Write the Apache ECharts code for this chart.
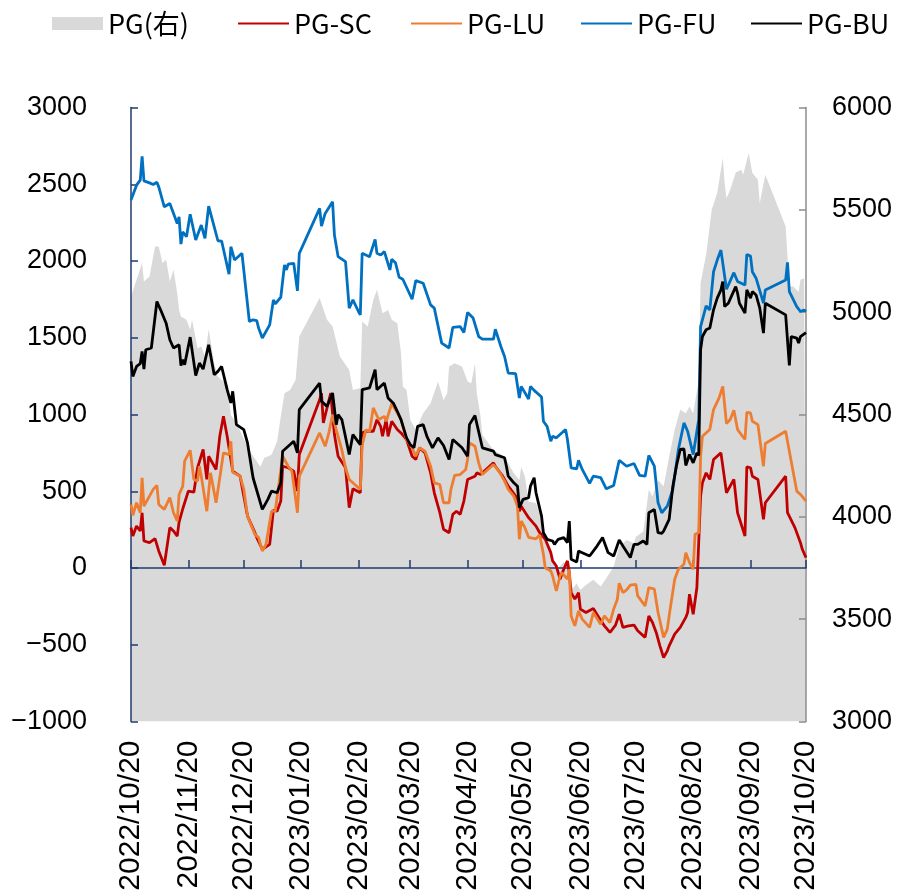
<!DOCTYPE html>
<html><head><meta charset="utf-8">
<script src="https://cdn.jsdelivr.net/npm/echarts@6/dist/echarts.min.js"></script>
<style>html,body{margin:0;padding:0;background:#fff}#c{width:897px;height:892px}</style>
</head><body><div id="c"></div>
<script>
const tickDates = ['2022-10-20','2022-11-20','2022-12-20','2023-01-20','2023-02-20','2023-03-20','2023-04-20','2023-05-20','2023-06-20','2023-07-20','2023-08-20','2023-09-20','2023-10-20'];
const legendNames = ['PG(右)','PG-SC','PG-LU','PG-FU','PG-BU'];

const PG = [['2022-10-20',5076],['2022-10-23',5158],['2022-10-26',5240],['2022-10-27',5150],['2022-10-30',5174],['2022-11-02',5321],['2022-11-04',5321],['2022-11-06',5240],['2022-11-08',5256],['2022-11-10',5150],['2022-11-12',5207],['2022-11-14',5093],['2022-11-15',5011],['2022-11-16',4979],['2022-11-19',4963],['2022-11-21',4914],['2022-11-22',4963],['2022-11-25',4824],['2022-11-27',4832],['2022-11-29',4783],['2022-12-01',4917],['2022-12-04',4751],['2022-12-06',4685],['2022-12-09',4661],['2022-12-11',4653],['2022-12-13',4498],['2022-12-16',4458],['2022-12-22',4343],['2022-12-24',4311],['2022-12-29',4245],['2022-12-31',4287],['2023-01-04',4303],['2023-01-07',4368],['2023-01-09',4490],['2023-01-11',4604],['2023-01-14',4620],['2023-01-17',4669],['2023-01-19',4881],['2023-01-30',5069],['2023-02-03',4963],['2023-02-06',4930],['2023-02-10',4783],['2023-02-15',4718],['2023-02-17',4620],['2023-02-21',4629],['2023-02-22',4954],['2023-02-25',4930],['2023-02-28',5060],['2023-03-02',5109],['2023-03-05',4995],['2023-03-08',5011],['2023-03-10',4963],['2023-03-13',4946],['2023-03-15',4800],['2023-03-16',4637],['2023-03-18',4620],['2023-03-20',4474],['2023-03-23',4425],['2023-03-27',4506],['2023-03-31',4555],['2023-04-04',4661],['2023-04-07',4571],['2023-04-09',4604],['2023-04-10',4734],['2023-04-13',4751],['2023-04-17',4734],['2023-04-20',4661],['2023-04-22',4653],['2023-04-24',4751],['2023-04-25',4604],['2023-04-27',4490],['2023-04-28',4400],['2023-05-04',4327],['2023-05-07',4311],['2023-05-10',4294],['2023-05-12',4262],['2023-05-15',4213],['2023-05-18',4180],['2023-05-19',4245],['2023-05-21',4197],['2023-05-23',4074],['2023-05-27',4067],['2023-05-30',3985],['2023-05-31',3920],['2023-06-02',3887],['2023-06-05',3773],['2023-06-08',3749],['2023-06-11',3781],['2023-06-13',3757],['2023-06-14',3692],['2023-06-16',3651],['2023-06-18',3676],['2023-06-20',3643],['2023-06-23',3667],['2023-06-27',3692],['2023-07-01',3659],['2023-07-04',3700],['2023-07-08',3757],['2023-07-11',3854],['2023-07-15',3887],['2023-07-19',3871],['2023-07-20',3903],['2023-07-24',3928],['2023-07-27',4132],['2023-07-29',4099],['2023-08-01',4180],['2023-08-04',4148],['2023-08-07',4294],['2023-08-10',4425],['2023-08-13',4523],['2023-08-16',4506],['2023-08-18',4539],['2023-08-20',4506],['2023-08-23',4669],['2023-08-24',5142],['2023-08-27',5280],['2023-08-30',5500],['2023-09-02',5582],['2023-09-05',5753],['2023-09-06',5631],['2023-09-07',5557],['2023-09-09',5598],['2023-09-12',5683],['2023-09-15',5696],['2023-09-16',5671],['2023-09-19',5777],['2023-09-21',5680],['2023-09-24',5647],['2023-09-25',5533],['2023-09-28',5671],['2023-10-09',5419],['2023-10-10',5272],['2023-10-11',5125],['2023-10-13',5125],['2023-10-16',5100],['2023-10-17',5158],['2023-10-19',5166],['2023-10-20',5166]];

const PG_SC = [['2022-10-20',263],['2022-10-21',208],['2022-10-23',273],['2022-10-25',241],['2022-10-26',360],['2022-10-27',176],['2022-10-30',165],['2022-11-02',191],['2022-11-04',111],['2022-11-07',18],['2022-11-10',263],['2022-11-12',241],['2022-11-14',208],['2022-11-15',299],['2022-11-17',386],['2022-11-20',501],['2022-11-23',494],['2022-11-25',653],['2022-11-28',772],['2022-11-30',577],['2022-12-01',728],['2022-12-05',642],['2022-12-07',858],['2022-12-09',988],['2022-12-11',858],['2022-12-14',631],['2022-12-18',598],['2022-12-22',338],['2022-12-26',230],['2022-12-27',198],['2022-12-30',122],['2023-01-03',154],['2023-01-05',377],['2023-01-07',370],['2023-01-09',436],['2023-01-10',663],['2023-01-13',653],['2023-01-16',631],['2023-01-18',501],['2023-01-19',739],['2023-01-30',1096],['2023-01-31',1140],['2023-02-01',945],['2023-02-05',1140],['2023-02-07',869],['2023-02-09',728],['2023-02-13',653],['2023-02-15',393],['2023-02-17',516],['2023-02-21',490],['2023-02-22',880],['2023-02-24',891],['2023-02-28',891],['2023-03-02',967],['2023-03-04',923],['2023-03-05',858],['2023-03-07',967],['2023-03-08',858],['2023-03-10',956],['2023-03-13',902],['2023-03-15',880],['2023-03-18',837],['2023-03-21',728],['2023-03-23',707],['2023-03-25',783],['2023-03-28',750],['2023-03-31',620],['2023-04-02',490],['2023-04-05',360],['2023-04-07',252],['2023-04-10',230],['2023-04-12',349],['2023-04-14',370],['2023-04-16',349],['2023-04-18',436],['2023-04-20',577],['2023-04-24',598],['2023-04-25',620],['2023-04-27',609],['2023-04-28',615],['2023-05-04',685],['2023-05-05',663],['2023-05-09',598],['2023-05-12',533],['2023-05-16',468],['2023-05-18',370],['2023-05-19',403],['2023-05-23',328],['2023-05-27',273],['2023-05-29',230],['2023-06-01',187],['2023-06-04',100],['2023-06-05',46],['2023-06-07',13],['2023-06-09',-73],['2023-06-11',-8],['2023-06-13',46],['2023-06-14',-30],['2023-06-15',-160],['2023-06-17',-203],['2023-06-19',-160],['2023-06-20',-268],['2023-06-23',-290],['2023-06-27',-264],['2023-06-30',-322],['2023-07-03',-377],['2023-07-06',-420],['2023-07-09',-372],['2023-07-11',-301],['2023-07-13',-387],['2023-07-16',-377],['2023-07-19',-372],['2023-07-21',-409],['2023-07-25',-452],['2023-07-27',-312],['2023-07-29',-355],['2023-07-31',-420],['2023-08-02',-507],['2023-08-04',-583],['2023-08-06',-540],['2023-08-07',-507],['2023-08-10',-431],['2023-08-13',-387],['2023-08-16',-322],['2023-08-17',-290],['2023-08-18',-171],['2023-08-20',-301],['2023-08-22',-127],['2023-08-23',-117],['2023-08-24',468],['2023-08-25',555],['2023-08-27',620],['2023-08-29',577],['2023-08-31',707],['2023-09-04',750],['2023-09-07',490],['2023-09-11',577],['2023-09-13',360],['2023-09-17',208],['2023-09-18',659],['2023-09-20',653],['2023-09-21',598],['2023-09-24',577],['2023-09-27',317],['2023-09-28',425],['2023-10-09',598],['2023-10-10',360],['2023-10-14',263],['2023-10-17',165],['2023-10-18',122],['2023-10-19',133],['2023-10-20',68]];

const PG_LU = [['2022-10-20',414],['2022-10-21',343],['2022-10-23',425],['2022-10-25',360],['2022-10-26',588],['2022-10-27',403],['2022-10-30',468],['2022-11-01',512],['2022-11-03',538],['2022-11-04',414],['2022-11-07',382],['2022-11-10',458],['2022-11-12',360],['2022-11-14',306],['2022-11-15',479],['2022-11-17',533],['2022-11-18',696],['2022-11-21',767],['2022-11-23',577],['2022-11-25',566],['2022-11-26',663],['2022-11-27',598],['2022-11-30',370],['2022-12-02',620],['2022-12-05',425],['2022-12-09',750],['2022-12-12',739],['2022-12-13',826],['2022-12-14',624],['2022-12-18',598],['2022-12-20',512],['2022-12-22',338],['2022-12-26',219],['2022-12-28',198],['2022-12-30',111],['2023-01-01',154],['2023-01-04',370],['2023-01-06',370],['2023-01-10',728],['2023-01-13',663],['2023-01-15',631],['2023-01-18',360],['2023-01-19',598],['2023-01-30',880],['2023-02-02',793],['2023-02-04',880],['2023-02-06',1000],['2023-02-08',900],['2023-02-11',770],['2023-02-13',653],['2023-02-15',577],['2023-02-18',544],['2023-02-21',512],['2023-02-22',800],['2023-02-24',900],['2023-02-26',888],['2023-02-28',1043],['2023-03-03',967],['2023-03-06',988],['2023-03-07',956],['2023-03-10',1071],['2023-03-13',1010],['2023-03-15',967],['2023-03-18',837],['2023-03-21',783],['2023-03-23',728],['2023-03-25',783],['2023-03-28',761],['2023-03-31',663],['2023-04-02',555],['2023-04-05',544],['2023-04-07',425],['2023-04-10',425],['2023-04-11',512],['2023-04-13',603],['2023-04-16',609],['2023-04-19',642],['2023-04-20',707],['2023-04-21',815],['2023-04-24',793],['2023-04-26',685],['2023-04-28',609],['2023-05-04',674],['2023-05-07',631],['2023-05-10',566],['2023-05-12',512],['2023-05-15',468],['2023-05-17',403],['2023-05-18',187],['2023-05-19',306],['2023-05-21',263],['2023-05-23',200],['2023-05-27',190],['2023-05-29',215],['2023-05-31',89],['2023-06-01',2],['2023-06-04',-20],['2023-06-05',-52],['2023-06-07',-150],['2023-06-09',-52],['2023-06-10',-30],['2023-06-13',-73],['2023-06-14',-8],['2023-06-15',-312],['2023-06-17',-377],['2023-06-19',-279],['2023-06-21',-333],['2023-06-25',-387],['2023-06-27',-290],['2023-07-01',-366],['2023-07-03',-312],['2023-07-06',-355],['2023-07-08',-268],['2023-07-10',-203],['2023-07-11',-99],['2023-07-13',-160],['2023-07-15',-143],['2023-07-17',-112],['2023-07-20',-106],['2023-07-21',-182],['2023-07-25',-247],['2023-07-27',-127],['2023-07-30',-138],['2023-08-01',-290],['2023-08-04',-452],['2023-08-06',-398],['2023-08-07',-312],['2023-08-10',-73],['2023-08-12',-8],['2023-08-15',24],['2023-08-16',100],['2023-08-18',35],['2023-08-20',-8],['2023-08-21',219],['2023-08-23',230],['2023-08-24',728],['2023-08-25',858],['2023-08-29',902],['2023-08-31',1032],['2023-09-03',1108],['2023-09-05',1183],['2023-09-07',941],['2023-09-09',967],['2023-09-11',1027],['2023-09-13',902],['2023-09-17',837],['2023-09-18',1014],['2023-09-20',1010],['2023-09-21',956],['2023-09-24',934],['2023-09-27',663],['2023-09-28',811],['2023-10-09',891],['2023-10-11',761],['2023-10-13',631],['2023-10-15',501],['2023-10-17',479],['2023-10-18',468],['2023-10-20',436]];

const PG_FU = [['2022-10-20',2397],['2022-10-23',2494],['2022-10-25',2527],['2022-10-26',2682],['2022-10-27',2522],['2022-10-30',2509],['2022-11-01',2498],['2022-11-03',2513],['2022-11-04',2483],['2022-11-07',2353],['2022-11-10',2375],['2022-11-14',2245],['2022-11-15',2288],['2022-11-16',2110],['2022-11-17',2190],['2022-11-19',2158],['2022-11-21',2305],['2022-11-24',2137],['2022-11-27',2234],['2022-11-29',2148],['2022-12-01',2358],['2022-12-04',2223],['2022-12-06',2132],['2022-12-08',2130],['2022-12-12',1914],['2022-12-13',2093],['2022-12-15',2007],['2022-12-19',2050],['2022-12-23',1606],['2022-12-25',1617],['2022-12-27',1612],['2022-12-28',1563],['2022-12-30',1498],['2023-01-03',1584],['2023-01-05',1747],['2023-01-06',1721],['2023-01-09',1764],['2023-01-11',1974],['2023-01-12',1942],['2023-01-13',1979],['2023-01-16',1985],['2023-01-18',1805],['2023-01-19',2050],['2023-01-30',2343],['2023-01-31',2228],['2023-02-02',2310],['2023-02-06',2386],['2023-02-07',2169],['2023-02-08',2158],['2023-02-09',2028],['2023-02-13',1996],['2023-02-15',1693],['2023-02-17',1747],['2023-02-20',1671],['2023-02-21',1649],['2023-02-22',2050],['2023-02-26',2028],['2023-03-01',2141],['2023-03-02',2050],['2023-03-04',2039],['2023-03-06',2061],['2023-03-09',1942],['2023-03-10',2011],['2023-03-12',1989],['2023-03-14',1894],['2023-03-16',1881],['2023-03-21',1751],['2023-03-23',1872],['2023-03-27',1855],['2023-03-31',1714],['2023-04-02',1693],['2023-04-06',1465],['2023-04-10',1433],['2023-04-12',1567],['2023-04-16',1573],['2023-04-18',1534],['2023-04-20',1664],['2023-04-23',1628],['2023-04-26',1508],['2023-04-28',1491],['2023-05-04',1491],['2023-05-05',1556],['2023-05-08',1443],['2023-05-10',1378],['2023-05-12',1270],['2023-05-16',1266],['2023-05-18',1108],['2023-05-19',1183],['2023-05-23',1101],['2023-05-24',1183],['2023-05-26',1157],['2023-05-30',1114],['2023-05-31',956],['2023-06-02',923],['2023-06-04',826],['2023-06-05',858],['2023-06-07',848],['2023-06-12',902],['2023-06-13',837],['2023-06-15',653],['2023-06-18',646],['2023-06-19',702],['2023-06-21',642],['2023-06-25',551],['2023-06-27',598],['2023-07-01',588],['2023-07-04',516],['2023-07-08',538],['2023-07-11',702],['2023-07-15',663],['2023-07-19',681],['2023-07-22',603],['2023-07-25',598],['2023-07-27',733],['2023-07-30',663],['2023-08-01',425],['2023-08-03',360],['2023-08-06',403],['2023-08-09',512],['2023-08-12',772],['2023-08-15',945],['2023-08-17',891],['2023-08-20',739],['2023-08-23',967],['2023-08-24',1572],['2023-08-27',1707],['2023-08-29',1681],['2023-08-31',1930],['2023-09-02',2006],['2023-09-04',2071],['2023-09-07',1816],['2023-09-11',1924],['2023-09-13',1866],['2023-09-17',1843],['2023-09-18',2043],['2023-09-20',2032],['2023-09-21',1930],['2023-09-23',1888],['2023-09-27',1725],['2023-09-28',1811],['2023-10-09',1876],['2023-10-10',1991],['2023-10-11',1800],['2023-10-15',1703],['2023-10-17',1671],['2023-10-19',1681],['2023-10-20',1671]];

const PG_BU = [['2022-10-20',1346],['2022-10-21',1248],['2022-10-23',1313],['2022-10-25',1331],['2022-10-26',1411],['2022-10-27',1296],['2022-10-28',1422],['2022-10-31',1433],['2022-11-01',1430],['2022-11-03',1736],['2022-11-05',1682],['2022-11-08',1595],['2022-11-10',1487],['2022-11-12',1433],['2022-11-15',1454],['2022-11-16',1318],['2022-11-17',1357],['2022-11-18',1324],['2022-11-21',1504],['2022-11-24',1253],['2022-11-26',1335],['2022-11-28',1296],['2022-12-01',1454],['2022-12-04',1259],['2022-12-06',1281],['2022-12-08',1313],['2022-12-11',1162],['2022-12-13',1075],['2022-12-14',1151],['2022-12-16',934],['2022-12-20',902],['2022-12-22',815],['2022-12-25',588],['2022-12-26',577],['2022-12-30',382],['2023-01-02',447],['2023-01-04',501],['2023-01-07',490],['2023-01-09',555],['2023-01-10',761],['2023-01-13',793],['2023-01-16',826],['2023-01-18',750],['2023-01-19',1032],['2023-01-30',1205],['2023-01-31',1086],['2023-02-03',1053],['2023-02-06',1140],['2023-02-08',934],['2023-02-09',999],['2023-02-11',967],['2023-02-15',739],['2023-02-17',869],['2023-02-21',804],['2023-02-22',1162],['2023-02-26',1173],['2023-03-01',1292],['2023-03-02',1162],['2023-03-06',1205],['2023-03-08',1108],['2023-03-11',1071],['2023-03-13',1021],['2023-03-15',967],['2023-03-18',848],['2023-03-20',804],['2023-03-22',783],['2023-03-24',923],['2023-03-27',934],['2023-03-29',858],['2023-04-01',783],['2023-04-04',848],['2023-04-07',798],['2023-04-10',707],['2023-04-12',837],['2023-04-17',783],['2023-04-20',728],['2023-04-21',934],['2023-04-24',993],['2023-04-28',783],['2023-05-04',761],['2023-05-05',739],['2023-05-10',718],['2023-05-11',663],['2023-05-12',598],['2023-05-15',555],['2023-05-17',533],['2023-05-18',393],['2023-05-20',447],['2023-05-23',458],['2023-05-24',533],['2023-05-26',588],['2023-05-27',490],['2023-05-30',338],['2023-05-31',230],['2023-06-02',187],['2023-06-05',176],['2023-06-06',154],['2023-06-08',187],['2023-06-11',198],['2023-06-13',165],['2023-06-14',306],['2023-06-15',57],['2023-06-16',52],['2023-06-18',39],['2023-06-19',111],['2023-06-21',100],['2023-06-25',78],['2023-06-29',143],['2023-07-02',198],['2023-07-05',100],['2023-07-08',78],['2023-07-11',182],['2023-07-13',143],['2023-07-17',68],['2023-07-19',154],['2023-07-21',154],['2023-07-24',176],['2023-07-26',154],['2023-07-27',360],['2023-07-30',382],['2023-08-01',230],['2023-08-03',226],['2023-08-04',240],['2023-08-07',317],['2023-08-09',533],['2023-08-11',668],['2023-08-13',772],['2023-08-15',776],['2023-08-16',668],['2023-08-18',739],['2023-08-20',685],['2023-08-22',750],['2023-08-23',733],['2023-08-24',1422],['2023-08-25',1508],['2023-08-27',1552],['2023-08-29',1563],['2023-08-31',1682],['2023-09-02',1758],['2023-09-04',1812],['2023-09-05',1866],['2023-09-06',1703],['2023-09-08',1725],['2023-09-10',1779],['2023-09-12',1833],['2023-09-13',1790],['2023-09-14',1725],['2023-09-17',1660],['2023-09-18',1812],['2023-09-20',1758],['2023-09-21',1801],['2023-09-23',1779],['2023-09-25',1693],['2023-09-27',1530],['2023-09-28',1725],['2023-10-09',1649],['2023-10-11',1320],['2023-10-12',1508],['2023-10-15',1498],['2023-10-16',1465],['2023-10-17',1508],['2023-10-18',1519],['2023-10-20',1534]];

function toTime(s){const p=s.split('-');return new Date(+p[0],+p[1]-1,+p[2]).getTime();}
function pts(arr){return arr.map(d=>[toTime(d[0]),d[1]]);}
const tickTimes = tickDates.map(toTime);
const pad = n => (n<10?'0':'')+n;
function fmtDate(v){const d=new Date(v);return d.getFullYear()+'/'+pad(d.getMonth()+1)+'/'+pad(d.getDate());}
const navy = '#1F3B6E';
const labelFont = "'Liberation Sans', Arial, sans-serif";
const xMin = tickTimes[0], xMax = tickTimes[tickTimes.length-1];
const LW = 2.8;

const legendLefts = [52, 237, 410, 580, 750];
const legends = legendNames.map((n, i) => ({
  left: legendLefts[i], top: 10, padding: 0, itemWidth: 51, itemHeight: 13, width: 200,
  textStyle: {fontSize: 27, color: '#000', fontFamily: "'Noto Sans CJK SC', sans-serif"},
  data: [i === 0 ? {name: n, icon: 'rect'} : {name: n, itemStyle: {opacity: 0}}]
}));

const chart = echarts.init(document.getElementById('c'), null, {renderer:'canvas'});
chart.setOption({
  animation:false,
  backgroundColor:'#fff',
  legend: legends,
  grid:{left:131, right:91, top:107.5, bottom:170.5, containLabel:false, outerBoundsMode:'none'},
  xAxis:[
    {type:'value', min:xMin, max:xMax, position:'bottom', scale:true,
     axisLine:{show:false, onZero:false}, axisTick:{show:false}, splitLine:{show:false},
     axisLabel:{customValues:tickTimes, rotate:90, margin:19, fontSize:30, color:'#000', fontFamily:labelFont, formatter:fmtDate, hideOverlap:false}},
    {type:'value', min:xMin, max:xMax, position:'bottom', scale:true, z:2,
     axisLine:{show:true, onZero:true, onZeroAxisIndex:0, lineStyle:{color:navy, width:1.5}},
     axisTick:{show:true, inside:true, length:8, customValues:tickTimes, lineStyle:{color:navy, width:1.5}},
     axisLabel:{show:false}, splitLine:{show:false}}
  ],
  yAxis:[
    {type:'value', min:-1000, max:3000, interval:500, position:'left', z:2,
     axisLine:{show:true, lineStyle:{color:navy, width:1.5}},
     axisTick:{show:true, inside:true, length:7, lineStyle:{color:navy, width:1.5}},
     splitLine:{show:false},
     axisLabel:{fontSize:27, color:'#000', margin:44, fontFamily:labelFont, formatter:v => v<0 ? '\u2212'+Math.abs(v) : String(v)}},
    {type:'value', min:3000, max:6000, interval:500, position:'right', z:2,
     axisLine:{show:true, lineStyle:{color:'#8c8c8c', width:1.5}},
     axisTick:{show:true, inside:true, length:7, lineStyle:{color:'#8c8c8c', width:1.5}},
     splitLine:{show:false},
     axisLabel:{fontSize:27, color:'#000', margin:26, fontFamily:labelFont, formatter:v => String(v)}}
  ],
  series:[
    {name:'PG(右)', type:'line', yAxisIndex:1, data:pts(PG), symbol:'none', z:1,
     lineStyle:{width:0}, itemStyle:{color:'#d9d9d9'}, areaStyle:{color:'#d9d9d9', opacity:1, origin:'start'}},
    {name:'PG-SC', type:'line', data:pts(PG_SC), symbol:'none', z:3, itemStyle:{color:'#C00000'}, lineStyle:{color:'#C00000', width:LW}},
    {name:'PG-LU', type:'line', data:pts(PG_LU), symbol:'none', z:3, itemStyle:{color:'#ED7D31'}, lineStyle:{color:'#ED7D31', width:LW}},
    {name:'PG-FU', type:'line', data:pts(PG_FU), symbol:'none', z:3, itemStyle:{color:'#0070C0'}, lineStyle:{color:'#0070C0', width:LW}},
    {name:'PG-BU', type:'line', data:pts(PG_BU), symbol:'none', z:3, itemStyle:{color:'#000000'}, lineStyle:{color:'#000000', width:LW}}
  ]
});
</script>
</body></html>
